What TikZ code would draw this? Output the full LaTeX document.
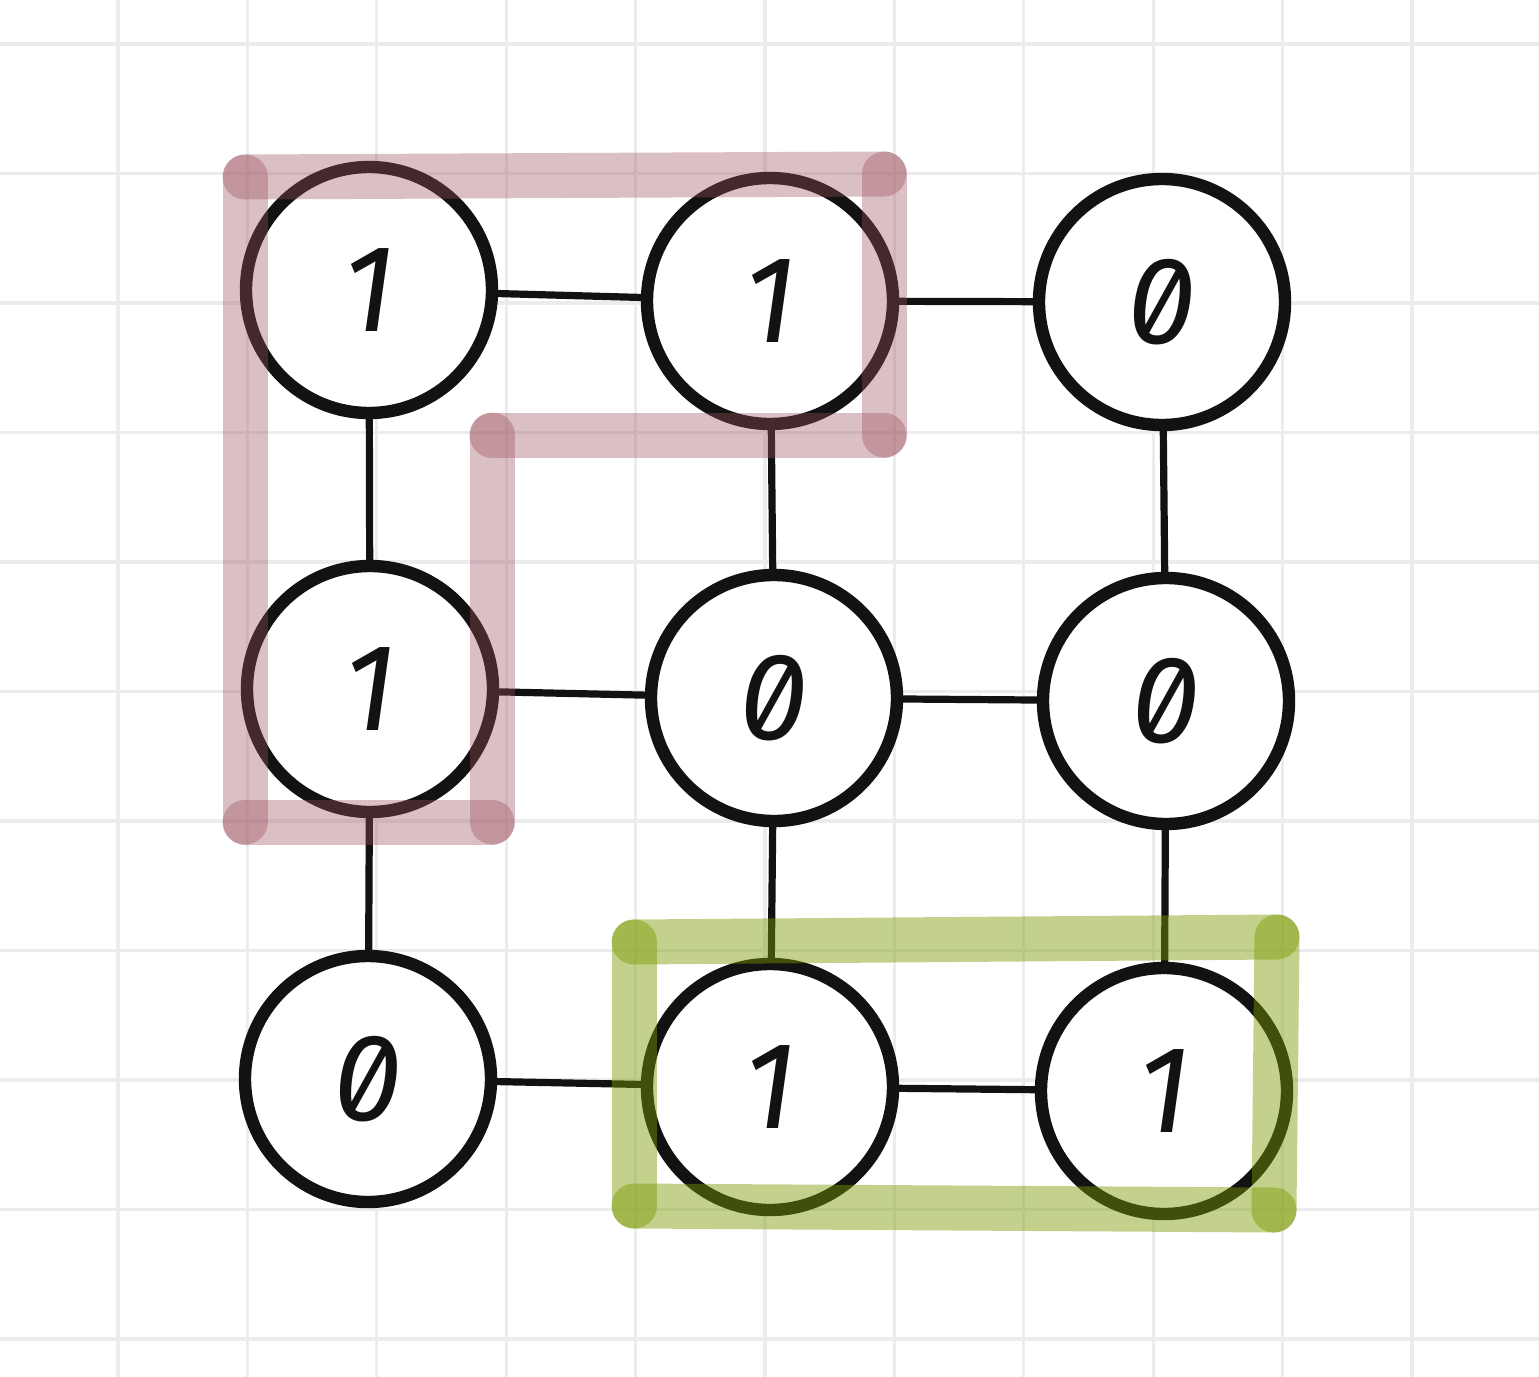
\documentclass[tikz,border=0pt]{standalone}
\usepackage{fontspec}
\newfontfamily\digitfont[RawFeature=+zero]{Fira Sans}
\definecolor{gridc}{RGB}{236,236,238}
\definecolor{pinkc}{RGB}{155,80,92}
\definecolor{greenc}{RGB}{122,155,0}
\definecolor{inkc}{RGB}{18,18,18}
\tikzset{
  gridline/.style={draw=gridc, line width=1.6pt},
  cell/.style={circle, draw=inkc, fill=white, line width=6.2pt, minimum size=123pt, inner sep=0pt,
    font=\digitfont\itshape\fontsize{62}{66}\selectfont, text=inkc},
  link/.style={draw=inkc, line width=3.6pt},
  pinkband/.style={draw=pinkc, line width=22.5pt, line cap=round, opacity=0.36},
  greenband/.style={draw=greenc, line width=22.5pt, line cap=round, opacity=0.45},
}
\begin{document}
\begin{tikzpicture}[x=0.5pt,y=-0.5pt]
\useasboundingbox (0,0) rectangle (1539,1377);
\fill[white] (0,0) rectangle (1539,1377);
% grid
\foreach \gx in {118,247.4,376.8,506.2,635.6,765,894.4,1023.8,1153.2,1282.6,1412}
  \draw[gridline] (\gx,0) -- (\gx,1377);
\foreach \gy in {44,173.5,303,432.5,562,691.5,821,950.5,1080,1209.5,1339}
  \draw[gridline] (0,\gy) -- (1539,\gy);
% nodes
\node[cell] (n11) at (369,290) {1};
\node[cell] (n12) at (770,301) {1};
\node[cell] (n13) at (1162,302) {0};
\node[cell] (n21) at (370,689) {1};
\node[cell] (n22) at (774,698) {0};
\node[cell] (n23) at (1166,701) {0};
\node[cell] (n31) at (368,1079) {0};
\node[cell] (n32) at (770,1087) {1};
\node[cell] (n33) at (1164,1091) {1};
% links
\draw[link] (n11) -- (n12);
\draw[link] (n12) -- (n13);
\draw[link] (n21) -- (n22);
\draw[link] (n22) -- (n23);
\draw[link] (n31) -- (n32);
\draw[link] (n32) -- (n33);
\draw[link] (n11) -- (n21);
\draw[link] (n21) -- (n31);
\draw[link] (n12) -- (n22);
\draw[link] (n22) -- (n32);
\draw[link] (n13) -- (n23);
\draw[link] (n23) -- (n33);
% pink highlight
\coordinate (p1) at (245,177);
\coordinate (p2) at (884,174);
\coordinate (p3) at (884,435);
\coordinate (p4) at (492,435);
\coordinate (p5) at (492,822);
\coordinate (p6) at (245,822);
\draw[pinkband] (p1) -- (p2);
\draw[pinkband] (p2) -- (p3);
\draw[pinkband] (p3) -- (p4);
\draw[pinkband] (p4) -- (p5);
\draw[pinkband] (p5) -- (p6);
\draw[pinkband] (p6) -- (p1);
% green highlight
\coordinate (g1) at (634,942);
\coordinate (g2) at (1277,937);
\coordinate (g3) at (1274,1210);
\coordinate (g4) at (634,1206);
\draw[greenband] (g1) -- (g2);
\draw[greenband] (g2) -- (g3);
\draw[greenband] (g3) -- (g4);
\draw[greenband] (g4) -- (g1);
\end{tikzpicture}
\end{document}
